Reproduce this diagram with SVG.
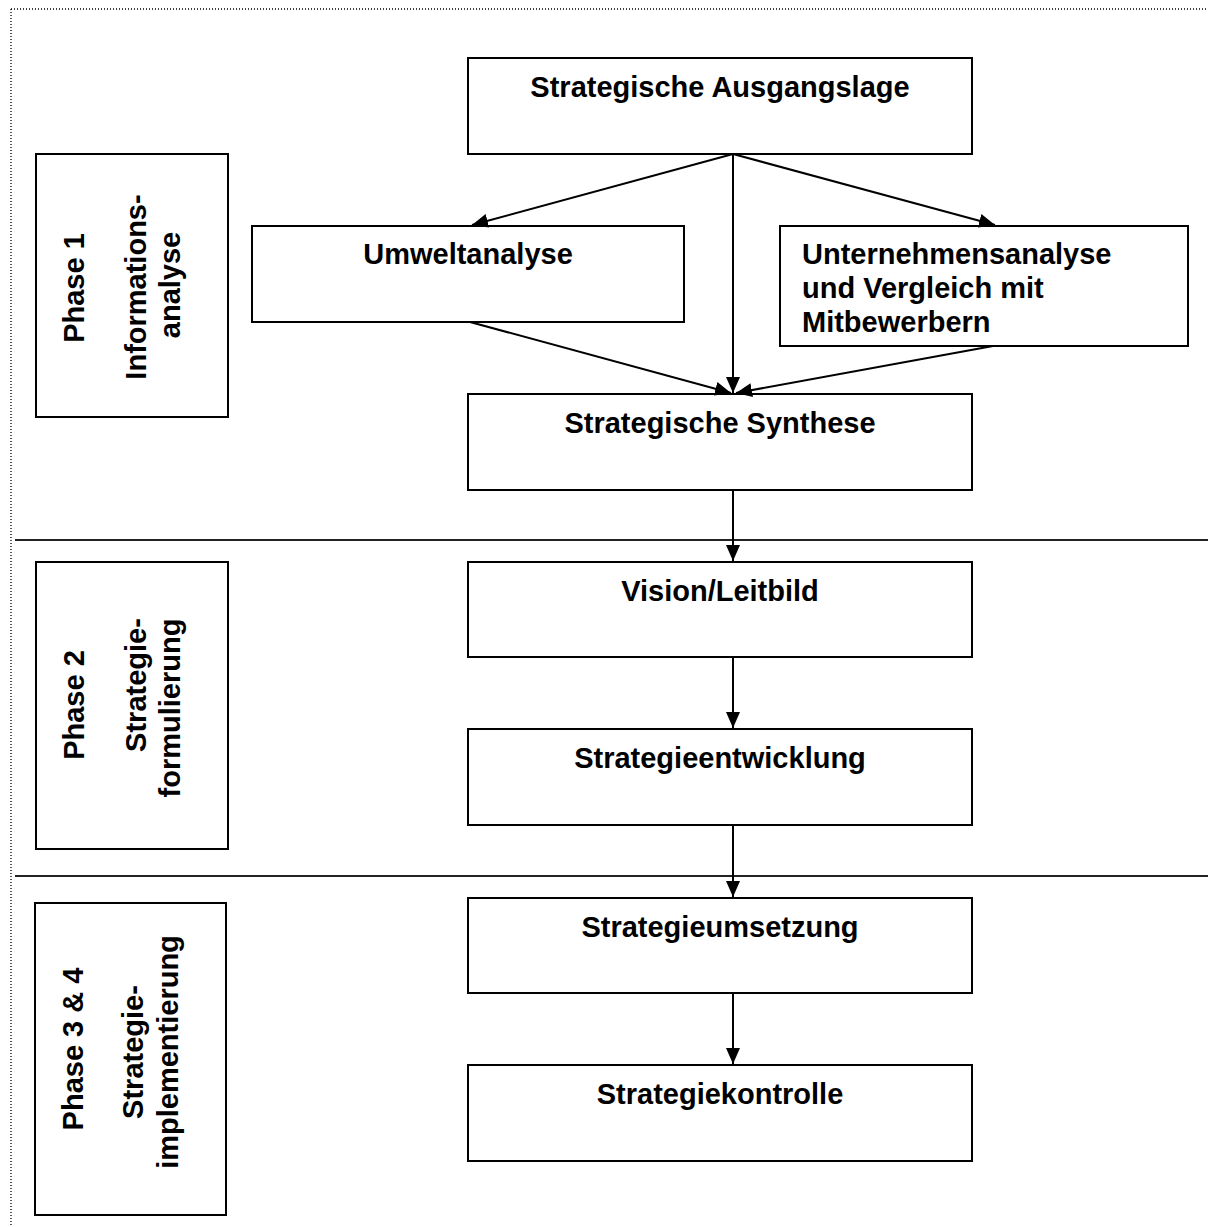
<svg xmlns="http://www.w3.org/2000/svg" width="1208" height="1227" viewBox="0 0 1208 1227">
<style>
.box{fill:#fff;stroke:#000;stroke-width:2}
.t{font-family:"Liberation Sans",Arial,sans-serif;font-weight:bold;font-size:29px;fill:#000}
.c{text-anchor:middle}
.con{stroke:#000;stroke-width:2;fill:none}
.sep{stroke:#222;stroke-width:2}
</style>
<defs>
<marker id="ah" viewBox="0 0 16 14" refX="16" refY="7" markerWidth="16" markerHeight="14" markerUnits="userSpaceOnUse" orient="auto">
<path d="M0,0 L16,7 L0,14 Z" fill="#000"/>
</marker>
</defs>
<rect width="1208" height="1227" fill="#fff"/>
<g id="frame">
<path d="M11,9 H1207 M11,9 V1227" stroke="#000" stroke-width="1.3" stroke-dasharray="1 2" fill="none"/>
<line class="sep" x1="15" y1="540" x2="1208" y2="540"/>
<line class="sep" x1="15" y1="876" x2="1208" y2="876"/>
</g>
<g id="phase1">
<rect class="box" x="36" y="154" width="192" height="263"/>
<text class="t c" transform="translate(84,288) rotate(-90)">Phase 1</text>
<text class="t c" transform="translate(146,287) rotate(-90)">Informations-</text>
<text class="t c" transform="translate(180,285) rotate(-90)">analyse</text>
</g>
<g id="phase2">
<rect class="box" x="36" y="562" width="192" height="287"/>
<text class="t c" transform="translate(84,705) rotate(-90)">Phase 2</text>
<text class="t c" transform="translate(146,685) rotate(-90)">Strategie-</text>
<text class="t c" transform="translate(180,708) rotate(-90)">formulierung</text>
</g>
<g id="phase3">
<rect class="box" x="35" y="903" width="191" height="312"/>
<text class="t c" transform="translate(83,1049) rotate(-90)">Phase 3 &amp; 4</text>
<text class="t c" transform="translate(143,1052) rotate(-90)">Strategie-</text>
<text class="t c" transform="translate(178,1052) rotate(-90)">implementierung</text>
</g>
<g id="ausgangslage">
<rect class="box" x="468" y="58" width="504" height="96"/>
<text class="t c" x="720" y="97">Strategische Ausgangslage</text>
</g>
<g id="umweltanalyse">
<rect class="box" x="252" y="226" width="432" height="96"/>
<text class="t c" x="468" y="264">Umweltanalyse</text>
</g>
<g id="unternehmensanalyse">
<rect class="box" x="780" y="226" width="408" height="120"/>
<text class="t" x="802" y="264">Unternehmensanalyse</text>
<text class="t" x="802" y="298">und Vergleich mit</text>
<text class="t" x="802" y="332">Mitbewerbern</text>
</g>
<g id="synthese">
<rect class="box" x="468" y="394" width="504" height="96"/>
<text class="t c" x="720" y="433">Strategische Synthese</text>
</g>
<g id="vision">
<rect class="box" x="468" y="562" width="504" height="95"/>
<text class="t c" x="720" y="601">Vision/Leitbild</text>
</g>
<g id="entwicklung">
<rect class="box" x="468" y="729" width="504" height="96"/>
<text class="t c" x="720" y="768">Strategieentwicklung</text>
</g>
<g id="umsetzung">
<rect class="box" x="468" y="898" width="504" height="95"/>
<text class="t c" x="720" y="937">Strategieumsetzung</text>
</g>
<g id="kontrolle">
<rect class="box" x="468" y="1065" width="504" height="96"/>
<text class="t c" x="720" y="1104">Strategiekontrolle</text>
</g>
<g id="connectors">
<line class="con" x1="733" y1="154" x2="472" y2="225" marker-end="url(#ah)"/>
<line class="con" x1="733" y1="154" x2="995" y2="225" marker-end="url(#ah)"/>
<line class="con" x1="733" y1="154" x2="733" y2="393" marker-end="url(#ah)"/>
<line class="con" x1="470" y1="322" x2="731" y2="393" marker-end="url(#ah)"/>
<line class="con" x1="993" y1="346" x2="736" y2="393" marker-end="url(#ah)"/>
<line class="con" x1="733" y1="490" x2="733" y2="561" marker-end="url(#ah)"/>
<line class="con" x1="733" y1="657" x2="733" y2="728" marker-end="url(#ah)"/>
<line class="con" x1="733" y1="825" x2="733" y2="897" marker-end="url(#ah)"/>
<line class="con" x1="733" y1="993" x2="733" y2="1064" marker-end="url(#ah)"/>
</g>
</svg>
